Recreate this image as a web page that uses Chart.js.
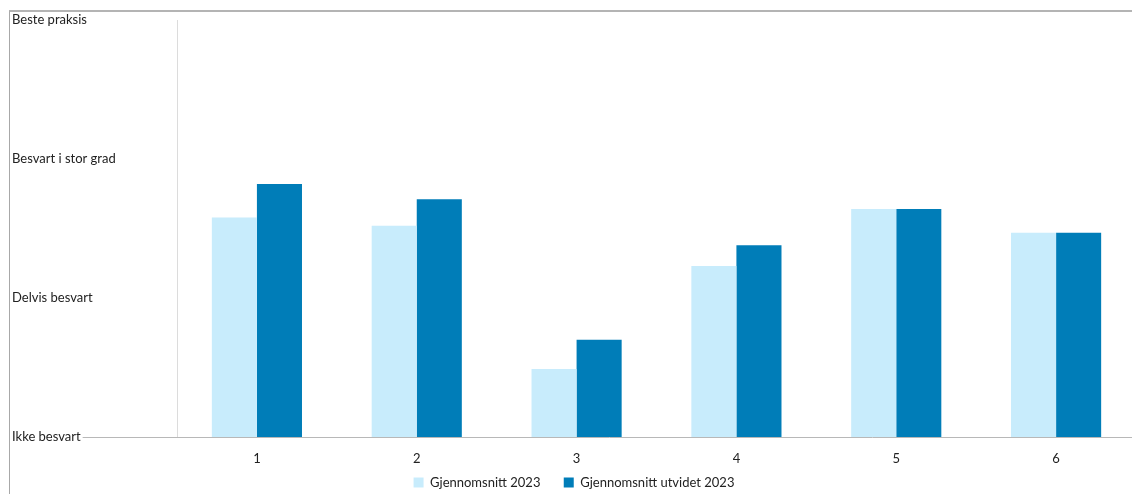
<!DOCTYPE html>
<html>
<head>
<meta charset="utf-8">
<script src="https://cdn.jsdelivr.net/npm/chart.js@4/dist/chart.umd.min.js"></script>
<style>
    html, body { margin: 0; padding: 0; overflow: hidden; background: #fff; }
    #frame {
        position: absolute; left: 9px; top: 10px; width: 1130px; height: 490px;
        border-top: 2px solid #b4b4b4; border-left: 1px solid #a8a8a8;
    }
    #wrap { position: absolute; left: 0; top: 0; width: 1136px; height: 499px; }
</style>
</head>
<body>
<div id="frame"></div>
<div id="wrap"><canvas id="chart"></canvas></div>
<script>
const categories = ['1', '2', '3', '4', '5', '6'];
const levelLabels = ['Ikke besvart', 'Delvis besvart', 'Besvart i stor grad', 'Beste praksis'];
const average2023 = [1.58, 1.52, 0.49, 1.23, 1.64, 1.47];
const averageExtended2023 = [1.82, 1.71, 0.70, 1.38, 1.64, 1.47];

const labelFont = { family: 'Lato', size: 13 };

// baseline runs from the end of the lowest level label to the right edge
const baselinePlugin = {
    id: 'baseline',
    afterDraw(chart) {
        const ctx = chart.ctx;
        const y = Math.round(chart.scales.y.getPixelForValue(0)) + 0.5;
        ctx.save();
        ctx.font = labelFont.size + 'px ' + labelFont.family;
        const start = chart.scales.y.left + ctx.measureText(levelLabels[0]).width + 2;
        ctx.strokeStyle = '#b8b8b8';
        ctx.lineWidth = 1;
        ctx.beginPath();
        ctx.moveTo(start, y);
        ctx.lineTo(chart.width, y);
        ctx.stroke();
        ctx.restore();
    }
};

new Chart(document.getElementById('chart').getContext('2d'), {
    type: 'bar',
    data: {
        labels: categories,
        datasets: [{
            label: 'Gjennomsnitt 2023',
            data: average2023,
            backgroundColor: '#c8ecfc'
        }, {
            label: 'Gjennomsnitt utvidet 2023',
            data: averageExtended2023,
            backgroundColor: '#007db8'
        }]
    },
    options: {
        responsive: true,
        maintainAspectRatio: false,
        animation: false,
        layout: { padding: { left: 12, top: 20, right: 0, bottom: 0 } },
        datasets: {
            bar: { categoryPercentage: 0.564, barPercentage: 1, borderWidth: 0 }
        },
        scales: {
            x: {
                grid: { display: false, drawTicks: false },
                border: { display: false },
                afterFit(scale) { scale.height = 29; },
                ticks: { color: '#222', font: { family: 'Lato', size: 13 }, padding: 14 }
            },
            y: {
                min: 0,
                max: 3,
                grid: { display: false, drawTicks: false },
                border: { color: '#dcdcdc' },
                afterFit(scale) { scale.width = 165; },
                ticks: {
                    stepSize: 1,
                    crossAlign: 'far',
                    color: '#222',
                    font: labelFont,
                    callback: v => levelLabels[v]
                }
            }
        },
        plugins: {
            legend: {
                position: 'bottom',
                labels: {
                    boxWidth: 10,
                    boxHeight: 10,
                    color: '#222',
                    font: { family: 'Lato', size: 13 },
                    padding: 10,
                    // wider gap after the first entry
                    generateLabels(chart) {
                        const items = Chart.defaults.plugins.legend.labels.generateLabels(chart);
                        items[0].text += '    ';
                        return items;
                    }
                }
            },
            tooltip: { enabled: false }
        }
    },
    plugins: [baselinePlugin]
});
</script>
</body>
</html>
